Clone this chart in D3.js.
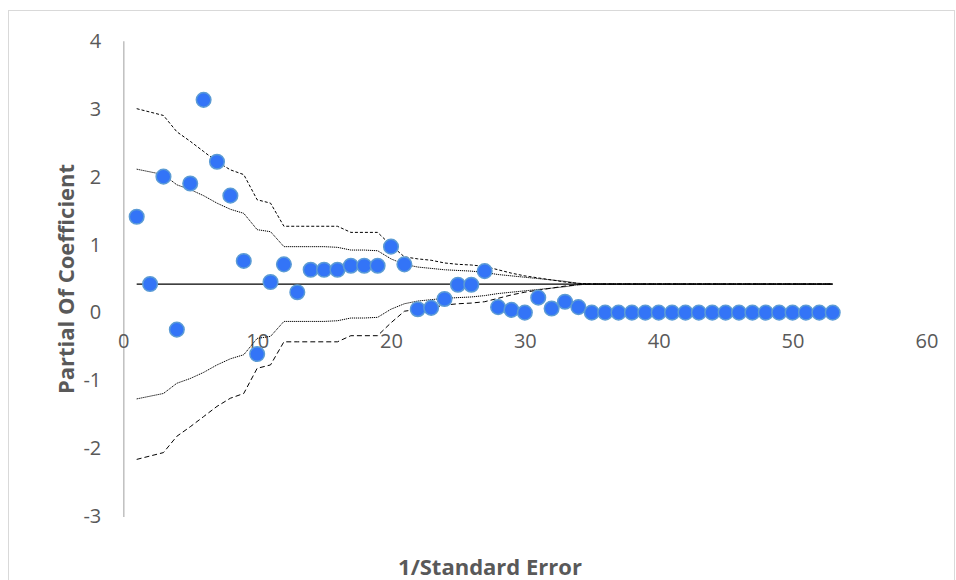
<!DOCTYPE html>
<html><head><meta charset="utf-8">
<script src="https://cdn.jsdelivr.net/npm/d3@7"></script>
<style>body{margin:0;background:#fff}svg{display:block}</style>
</head><body>
<svg id="c" width="956" height="580"></svg>
<script>
// ---- data ----
const xValues = d3.range(1, 54);
const coefficients = [1.41,0.42,2.00,-0.25,1.90,3.13,2.22,1.72,0.76,-0.61,
  0.45,0.71,0.30,0.63,0.63,0.63,0.69,0.69,0.69,0.97,
  0.71,0.05,0.07,0.20,0.41,0.41,0.61,0.08,0.04,0.00,
  0.22,0.06,0.16,0.08,0,0,0,0,0,0,
  0,0,0,0,0,0,0,0,0,0,
  0,0,0];
const meanValue = 0.42;
const upperOuter = [3.00,2.95,2.90,2.66,2.52,2.37,2.22,2.10,2.03,1.66,
  1.61,1.27,1.27,1.27,1.27,1.27,1.18,1.18,1.18,0.99,
  0.82,0.79,0.77,0.73,0.71,0.70,0.68,0.63,0.58,0.54,
  0.51,0.48,0.45,0.43,0.42,0.42,0.42,0.42,0.42,0.42,
  0.42,0.42,0.42,0.42,0.42,0.42,0.42,0.42,0.42,0.42,
  0.42,0.42,0.42];
const upperInner = [2.11,2.07,2.03,1.88,1.81,1.72,1.61,1.52,1.46,1.22,
  1.19,0.97,0.97,0.97,0.97,0.96,0.92,0.92,0.91,0.79,
  0.71,0.67,0.65,0.63,0.62,0.61,0.59,0.56,0.54,0.52,
  0.50,0.48,0.46,0.43,0.42,0.42,0.42,0.42,0.42,0.42,
  0.42,0.42,0.42,0.42,0.42,0.42,0.42,0.42,0.42,0.42,
  0.42,0.42,0.42];
const lowerInner = [-1.27,-1.23,-1.19,-1.04,-0.97,-0.88,-0.77,-0.68,-0.62,-0.38,
  -0.35,-0.13,-0.13,-0.13,-0.13,-0.12,-0.08,-0.08,-0.07,0.05,
  0.13,0.17,0.19,0.21,0.22,0.23,0.25,0.28,0.30,0.32,
  0.34,0.36,0.38,0.41,0.42,0.42,0.42,0.42,0.42,0.42,
  0.42,0.42,0.42,0.42,0.42,0.42,0.42,0.42,0.42,0.42,
  0.42,0.42,0.42];
const lowerOuter = [-2.16,-2.11,-2.06,-1.82,-1.68,-1.53,-1.38,-1.26,-1.19,-0.82,
  -0.77,-0.43,-0.43,-0.43,-0.43,-0.43,-0.34,-0.34,-0.34,-0.15,
  0.02,0.05,0.07,0.11,0.13,0.14,0.16,0.21,0.26,0.30,
  0.33,0.36,0.39,0.41,0.42,0.42,0.42,0.42,0.42,0.42,
  0.42,0.42,0.42,0.42,0.42,0.42,0.42,0.42,0.42,0.42,
  0.42,0.42,0.42];
const xTicks = [0,10,20,30,40,50,60];
const yTicks = [-3,-2,-1,0,1,2,3,4];
const xTitle = "1/Standard Error";
const yTitle = "Partial Of Coefficient";

// ---- drawing ----
const svg = d3.select("#c");
const font = "'Open Sans', sans-serif";
const fmt = d => String(d);
const x = d3.scaleLinear().domain([0,60]).range([123.3,926.4]);
const y = d3.scaleLinear().domain([-3,4]).range([516.5,40.7]);

svg.append("rect").attr("x",8.5).attr("y",10.5).attr("width",946).attr("height",600)
  .attr("fill","#fff").attr("stroke","#d9d9d9").attr("stroke-width",1);

// y axis
const yAxis = svg.append("g").attr("transform",`translate(${x(0)},0)`)
  .call(d3.axisLeft(y).tickValues(yTicks).tickSize(0).tickPadding(22).tickFormat(fmt));
yAxis.select(".domain").attr("stroke","#bfbfbf").attr("stroke-width",1.5);
yAxis.selectAll("text").attr("font-family",font).attr("font-size",20).attr("fill","#595959");

// x axis labels (no axis line)
const xAxis = svg.append("g").attr("transform",`translate(0,${y(0)})`)
  .call(d3.axisBottom(x).tickValues(xTicks).tickSize(0).tickPadding(21).tickFormat(fmt));
xAxis.select(".domain").remove();
xAxis.selectAll("text").attr("font-family",font).attr("font-size",20).attr("fill","#595959");

const line = arr => d3.line().x((d,i)=>x(xValues[i])).y(d=>y(d))(arr);

svg.append("path").attr("d", line(xValues.map(()=>meanValue)))
  .attr("fill","none").attr("stroke","#000").attr("stroke-width",1.2);

const styles = [
  [upperOuter,"3,2"],
  [upperInner,"1.2,0.8"],
  [lowerInner,"1.2,0.8"],
  [lowerOuter,"5,3"]
];
styles.forEach(([arr,dash])=>{
  svg.append("path").attr("d", line(arr)).attr("fill","none")
    .attr("stroke","#000").attr("stroke-width",1).attr("stroke-dasharray",dash);
});

svg.append("g").selectAll("circle").data(coefficients).join("circle")
  .attr("cx",(d,i)=>x(xValues[i])).attr("cy",d=>y(d)).attr("r",7.3)
  .attr("fill","#3374f7").attr("stroke","#5b9bd5").attr("stroke-width",1.5);

svg.append("text").attr("x",490).attr("y",575).attr("text-anchor","middle")
  .attr("font-family",font).attr("font-weight","bold").attr("font-size",22)
  .attr("fill","#595959").text(xTitle);
svg.append("text").attr("transform","translate(74,279) rotate(-90)").attr("text-anchor","middle")
  .attr("font-family",font).attr("font-weight","bold").attr("font-size",22)
  .attr("fill","#595959").text(yTitle);
</script>
</body></html>
